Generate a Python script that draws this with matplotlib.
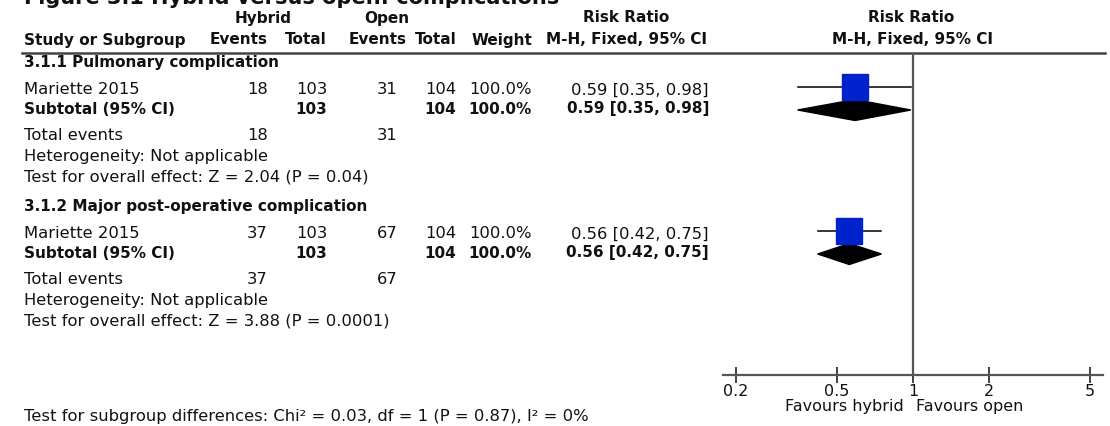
import matplotlib.pyplot as plt
from matplotlib.patches import Polygon

# data of the forest plot
subgroups = ["3.1.1 Pulmonary complication", "3.1.2 Major post-operative complication"]
studies = ["Mariette 2015", "Mariette 2015"]
hyb_events = [18, 37]
hyb_total = [103, 103]
open_events = [31, 67]
open_total = [104, 104]
weights = [100.0, 100.0]
rr = [0.59, 0.56]
rr_lo = [0.35, 0.42]
rr_hi = [0.98, 0.75]
z_vals = ["2.04", "3.88"]
p_vals = ["0.04", "0.0001"]
ticks = [0.2, 0.5, 1, 2, 5]
tick_labels = ["0.2", "0.5", "1", "2", "5"]

W, H = 1110, 427
fig = plt.figure(figsize=(W / 100, H / 100), dpi=100)
plt.rcParams['font.family'] = ['DejaVu Sans']
FS = 11.8     # normal text
FB = 11       # bold text
TXT = '#111111'

# full figure axes in pixel units for the table
ax = fig.add_axes([0, 0, 1, 1])
ax.set_xlim(0, W)
ax.set_ylim(H, 0)
ax.axis('off')

def t(x, y, s, ha='left', bold=False, size=None):
    if size is None:
        size = FB if bold else FS
    ax.text(x, y, s, ha=ha, va='center', fontsize=size, color=TXT,
            fontweight='bold' if bold else 'normal')

# title, cut at the top edge like in the picture
ax.text(24, 3.5, "Figure 3.1 Hybrid versus open: complications", ha='left', va='baseline',
        fontsize=15, fontweight='bold', color=TXT, clip_on=False)

# header
t(263, 18, "Hybrid", 'center', True)
t(387, 18, "Open", 'center', True)
t(626, 18, "Risk Ratio", 'center', True)
t(911, 18, "Risk Ratio", 'center', True)
t(24, 40, "Study or Subgroup", bold=True)
t(268, 40, "Events", 'right', True)
t(327, 40, "Total", 'right', True)
t(407, 40, "Events", 'right', True)
t(457, 40, "Total", 'right', True)
t(532, 40, "Weight", 'right', True)
t(627, 40, "M-H, Fixed, 95% CI", 'center', True)
t(912, 40, "M-H, Fixed, 95% CI", 'center', True)
ax.plot([22, 1105], [54, 54], color='#444444', lw=1.8)

# row layout for each subgroup (pixel y)
blocks = [63, 207]
study_y, sub_y = [], []
for i, y0 in enumerate(blocks):
    ys = y0 + 27
    yt = y0 + 46
    study_y.append(ys)
    sub_y.append(yt)
    t(24, y0, subgroups[i], bold=True)
    t(24, ys, studies[i])
    t(268, ys, str(hyb_events[i]), 'right')
    t(327, ys, str(hyb_total[i]), 'right')
    t(398, ys, str(open_events[i]), 'right')
    t(456, ys, str(open_total[i]), 'right')
    t(532, ys, f"{weights[i]:.1f}%", 'right')
    t(709, ys, f"{rr[i]:.2f} [{rr_lo[i]:.2f}, {rr_hi[i]:.2f}]", 'right')
    t(24, yt, "Subtotal (95% CI)", bold=True)
    t(327, yt, str(hyb_total[i]), 'right', True)
    t(456, yt, str(open_total[i]), 'right', True)
    t(532, yt, f"{weights[i]:.1f}%", 'right', True)
    t(709, yt, f"{rr[i]:.2f} [{rr_lo[i]:.2f}, {rr_hi[i]:.2f}]", 'right', True)
    t(24, y0 + 73, "Total events")
    t(268, y0 + 73, str(hyb_events[i]), 'right')
    t(398, y0 + 73, str(open_events[i]), 'right')
    t(24, y0 + 94, "Heterogeneity: Not applicable")
    t(24, y0 + 114, f"Test for overall effect: Z = {z_vals[i]} (P = {p_vals[i]})")

t(24, 417, "Test for subgroup differences: Chi\u00b2 = 0.03, df = 1 (P = 0.87), I\u00b2 = 0%")
t(904, 407, "Favours hybrid", 'right', size=11.5)
t(916, 407, "Favours open", 'left', size=11.5)

# forest panel: log scale, 1 in the middle of the axis line
y_top, y_axis = 54, 376
x_left, x_right = 723, 1103
fx = fig.add_axes([x_left / W, 1 - y_axis / H, (x_right - x_left) / W, (y_axis - y_top) / H])
fx.set_xscale('log')
half = 0.751
fx.set_xlim(10 ** -half, 10 ** half)
fx.set_ylim(y_axis, y_top)
fx.patch.set_alpha(0)
for s in ['top', 'left', 'right']:
    fx.spines[s].set_visible(False)
fx.spines['bottom'].set_color('#555555')
fx.spines['bottom'].set_linewidth(1.6)
fx.set_yticks([])
fx.set_xticks(ticks)
fx.set_xticklabels(tick_labels, fontsize=11.5, color=TXT)
fx.minorticks_off()
fx.tick_params(axis='x', direction='inout', length=12, width=1.2, color='#222222', pad=0)
fx.axvline(1, color='#555555', lw=1.6)

for i in range(len(rr)):
    sy = study_y[i] - 2
    dy = sub_y[i] + 2
    fx.plot([rr_lo[i], rr_hi[i]], [sy, sy], color='black', lw=1.1)
    fx.plot(rr[i], sy, marker='s', markersize=19, color='#0022cc', mec='#0022cc')
    d = Polygon([[rr_lo[i], dy], [rr[i], dy - 10.5], [rr_hi[i], dy], [rr[i], dy + 10.5]],
                closed=True, color='black')
    fx.add_patch(d)

fig.savefig('out.png', dpi=100)
